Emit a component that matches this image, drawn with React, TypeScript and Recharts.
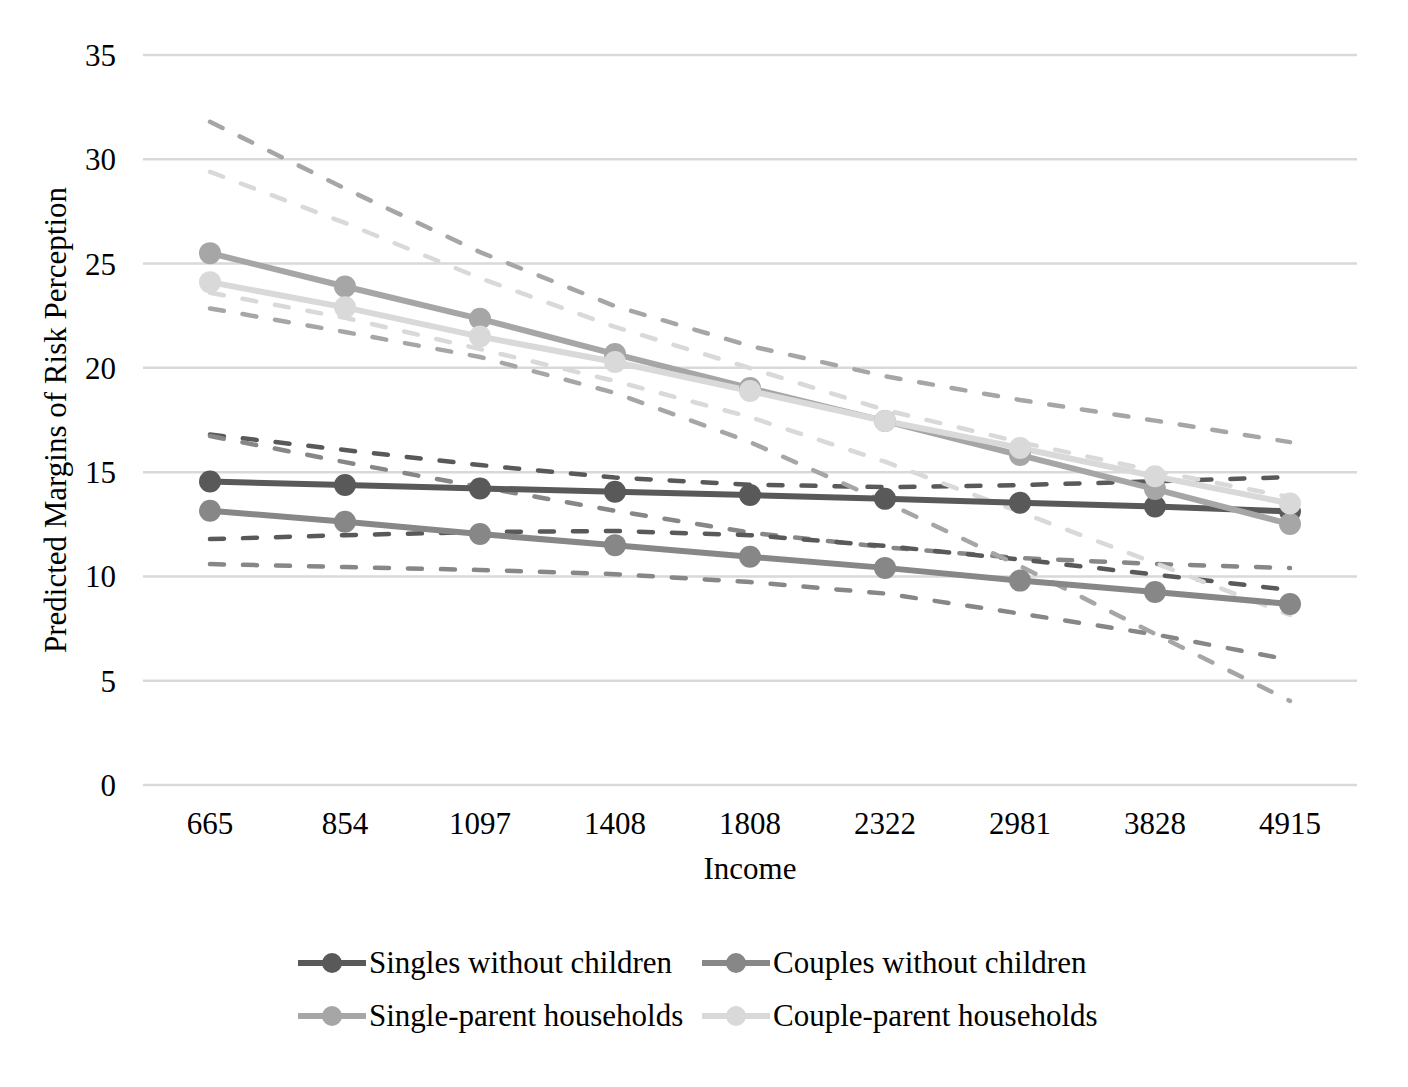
import { LineChart, Line, XAxis, YAxis, CartesianGrid, Legend } from "recharts";

const incomes = ["665", "854", "1097", "1408", "1808", "2322", "2981", "3828", "4915"];
const yTicks = [0, 5, 10, 15, 20, 25, 30, 35];

// predicted margins
const singles = [14.55, 14.38, 14.22, 14.06, 13.9, 13.72, 13.53, 13.35, 13.12];
const couples = [13.15, 12.62, 12.03, 11.5, 10.94, 10.41, 9.8, 9.25, 8.68];
const singleParent = [25.5, 23.9, 22.35, 20.66, 19.03, 17.45, 15.82, 14.19, 12.51];
const coupleParent = [24.11, 22.9, 21.5, 20.28, 18.89, 17.45, 16.16, 14.8, 13.5];

// confidence bounds (dashed)
const singlesHi = [16.8, 16.06, 15.34, 14.74, 14.4, 14.28, 14.38, 14.56, 14.76];
const singlesLo = [11.79, 11.98, 12.13, 12.18, 11.98, 11.46, 10.81, 10.09, 9.35];
const couplesHi = [16.73, 15.48, 14.29, 13.15, 12.1, 11.4, 10.88, 10.6, 10.4];
const couplesLo = [10.59, 10.45, 10.31, 10.11, 9.73, 9.18, 8.22, 7.22, 6.0];
const singleParentHi = [31.8, 28.6, 25.55, 22.96, 21.05, 19.6, 18.46, 17.47, 16.44];
const singleParentLo = [22.85, 21.72, 20.52, 18.8, 16.44, 13.57, 10.5, 7.24, 4.03];
const coupleParentHi = [29.4, 26.95, 24.3, 21.96, 19.99, 17.98, 16.44, 15.05, 13.8];
const coupleParentLo = [23.6, 22.4, 20.9, 19.37, 17.64, 15.5, 13.09, 10.64, 8.15];

const data = incomes.map((income, i) => ({
  income,
  singles: singles[i],
  couples: couples[i],
  singleParent: singleParent[i],
  coupleParent: coupleParent[i],
  singlesHi: singlesHi[i],
  singlesLo: singlesLo[i],
  couplesHi: couplesHi[i],
  couplesLo: couplesLo[i],
  singleParentHi: singleParentHi[i],
  singleParentLo: singleParentLo[i],
  coupleParentHi: coupleParentHi[i],
  coupleParentLo: coupleParentLo[i],
}));

const series = [
  { key: "singles", name: "Singles without children", color: "#595959" },
  { key: "couples", name: "Couples without children", color: "#878787" },
  { key: "singleParent", name: "Single-parent households", color: "#A6A6A6" },
  { key: "coupleParent", name: "Couple-parent households", color: "#D9D9D9" },
];

const FONT = "'Liberation Serif', 'Times New Roman', serif";
const FS = 31;

function LegendBox() {
  return (
    <div style={{ position: "relative", width: 1392, height: 110, fontFamily: FONT, fontSize: FS, color: "#000" }}>
      {series.map((s, i) => (
        <div
          key={s.key}
          style={{
            position: "absolute",
            left: i % 2 === 0 ? 290 : 694,
            top: Math.floor(i / 2) * 53,
            height: 53,
            display: "flex",
            alignItems: "center",
            whiteSpace: "nowrap",
          }}
        >
          <svg width={68} height={24} style={{ marginRight: 3 }}>
            <line x1={0} y1={12} x2={68} y2={12} stroke={s.color} strokeWidth={6} />
            <circle cx={34} cy={12} r={10} fill={s.color} />
          </svg>
          <span>{s.name}</span>
        </div>
      ))}
    </div>
  );
}

export default function App() {
  return (
    <LineChart
      width={1392}
      height={1071}
      data={data}
      margin={{ top: 47, right: 43, left: 47, bottom: 194 }}
      style={{ fontFamily: FONT }}
    >
      <CartesianGrid vertical={false} stroke="#D9D9D9" strokeWidth={2.5} />
      <XAxis
        dataKey="income"
        axisLine={false}
        tickLine={false}
        tickSize={0}
        tickMargin={27}
        height={100}
        padding={{ left: 67, right: 67 }}
        interval={0}
        tick={{ fontSize: FS, fill: "#000", fontFamily: FONT }}
        label={{
          content: (p: any) => (
            <text
              x={p.viewBox.x + p.viewBox.width / 2}
              y={871}
              textAnchor="middle"
              fontSize={FS}
              fontFamily={FONT}
              fill="#000"
            >
              Income
            </text>
          ),
        }}
      />
      <YAxis
        domain={[0, 35]}
        ticks={yTicks}
        interval={0}
        axisLine={false}
        tickLine={false}
        tickSize={0}
        tickMargin={27}
        width={88}
        tick={{ fontSize: FS, fill: "#000", fontFamily: FONT }}
        label={{
          content: (p: any) => {
            const cy = p.viewBox.y + p.viewBox.height / 2;
            return (
              <text
                x={58}
                y={cy}
                transform={`rotate(-90, 58, ${cy})`}
                textAnchor="middle"
                fontSize={FS}
                fontFamily={FONT}
                fill="#000"
              >
                Predicted Margins of Risk Perception
              </text>
            );
          },
        }}
      />

      {series.map((s) => (
        <Line
          key={s.key + "Hi"}
          dataKey={s.key + "Hi"}
          stroke={s.color}
          strokeWidth={4.5}
          strokeDasharray="14 19"
          strokeLinecap="round"
          dot={false}
          activeDot={false}
          legendType="none"
          isAnimationActive={false}
        />
      ))}
      {series.map((s) => (
        <Line
          key={s.key + "Lo"}
          dataKey={s.key + "Lo"}
          stroke={s.color}
          strokeWidth={4.5}
          strokeDasharray="14 19"
          strokeLinecap="round"
          dot={false}
          activeDot={false}
          legendType="none"
          isAnimationActive={false}
        />
      ))}
      {series.map((s) => (
        <Line
          key={s.key}
          dataKey={s.key}
          name={s.name}
          stroke={s.color}
          strokeWidth={6}
          dot={{ r: 11, fill: s.color, stroke: s.color, strokeWidth: 0 }}
          activeDot={false}
          isAnimationActive={false}
        />
      ))}

      <Legend
        layout="horizontal"
        verticalAlign="middle"
        align="center"
        wrapperStyle={{ top: 928, left: 0, width: 1392 }}
        content={() => <LegendBox />}
      />
    </LineChart>
  );
}
